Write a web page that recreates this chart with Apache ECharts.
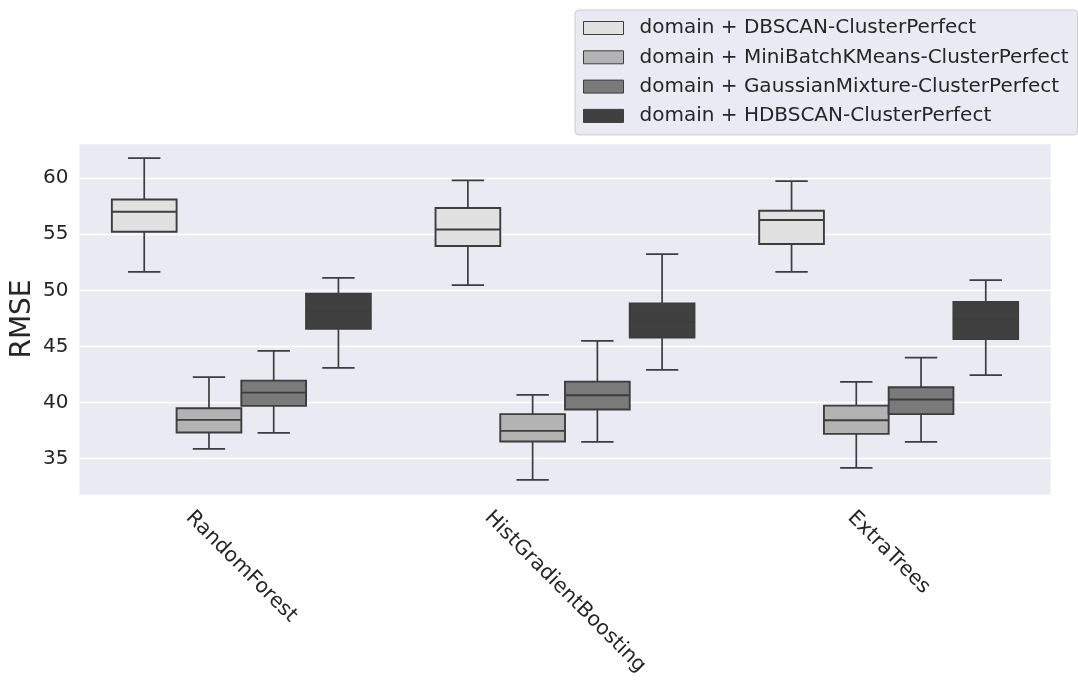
<!DOCTYPE html>
<html>
<head>
<meta charset="utf-8">
<script src="https://cdn.jsdelivr.net/npm/echarts@6/dist/echarts.min.js"></script>
<style>
  html, body { margin: 0; padding: 0; background: #ffffff; }
  #chart { width: 1078px; height: 688px; }
</style>
</head>
<body>
<div id="chart"></div>
<script>
// Regressors on the x axis
const categories = ['RandomForest', 'HistGradientBoosting', 'ExtraTrees'];

// Legend / series names
const seriesNames = [
  'domain + DBSCAN-ClusterPerfect',
  'domain + MiniBatchKMeans-ClusterPerfect',
  'domain + GaussianMixture-ClusterPerfect',
  'domain + HDBSCAN-ClusterPerfect'
];

// Box statistics per regressor: [lower whisker, Q1, median, Q3, upper whisker]
const dbscanStats = [
  [51.65, 55.21, 57.00, 58.09, 61.78],
  [50.46, 53.94, 55.42, 57.33, 59.79],
  [51.65, 54.12, 56.26, 57.09, 59.73]
];
const miniBatchStats = [
  [35.87, 37.33, 38.46, 39.50, 42.26],
  [33.11, 36.53, 37.48, 38.97, 40.69],
  [34.18, 37.21, 38.43, 39.73, 41.84]
];
const gaussianStats = [
  [37.30, 39.71, 40.89, 41.96, 44.61],
  [36.50, 39.38, 40.66, 41.87, 45.50],
  [36.50, 38.97, 40.27, 41.37, 44.01]
];
const hdbscanStats = [
  [43.09, 46.57, 48.20, 49.69, 51.11],
  [42.91, 45.80, 47.19, 48.82, 53.23],
  [42.44, 45.65, 47.46, 48.97, 50.91]
];

// Y axis range and labelled ticks
const yMin = 31.77;
const yMax = 63.12;
const yTicks = [35, 40, 45, 50, 55, 60];

const allStats = [dbscanStats, miniBatchStats, gaussianStats, hdbscanStats];
const fills = ['#e1e1e1', '#b3b3b3', '#7a7a7a', '#404040'];
const lineColor = '#3d3d3d';
const textColor = '#262626';
const fontFamily = '"DejaVu Sans", sans-serif';
const tickFont = 20;
const xTickFont = 20.5;
const labelLineHeight = 21;

// Rotated category labels: each one is pushed along and across its own direction
// so that its bounding box hangs centred under the tick with its top just below the axis.
const measureCtx = document.createElement('canvas').getContext('2d');
measureCtx.font = xTickFont + 'px "DejaVu Sans"';
const xAxisData = categories.map(function (c) {
  const len = measureCtx.measureText(c).width;
  const shift = 0.25 * (len + xTickFont * 0.9);
  return {
    value: c,
    textStyle: {
      align: 'center',
      verticalAlign: 'top',
      lineHeight: labelLineHeight,
      padding: [Math.max(0, shift - labelLineHeight / 2), 0, 0, 2 * shift]
    }
  };
});

const groupCount = seriesNames.length;

function makeRenderItem(seriesIdx) {
  return function (params, api) {
    const ci = api.value(0);
    const band = api.size([1, 0])[0];
    const slot = band * 0.8 / groupCount;
    const cx = api.coord([ci, 0])[0] + (seriesIdx - (groupCount - 1) / 2) * slot;
    const w = slot;
    const cap = w / 2;
    const yLow = api.coord([ci, api.value(1)])[1];
    const yQ1 = api.coord([ci, api.value(2)])[1];
    const yMed = api.coord([ci, api.value(3)])[1];
    const yQ3 = api.coord([ci, api.value(4)])[1];
    const yHigh = api.coord([ci, api.value(5)])[1];
    const lineStyle = { stroke: lineColor, lineWidth: 1.7, fill: null };
    return {
      type: 'group',
      children: [
        { type: 'line', shape: { x1: cx, y1: yLow, x2: cx, y2: yQ1 }, style: lineStyle },
        { type: 'line', shape: { x1: cx, y1: yQ3, x2: cx, y2: yHigh }, style: lineStyle },
        { type: 'line', shape: { x1: cx - cap / 2, y1: yLow, x2: cx + cap / 2, y2: yLow }, style: lineStyle },
        { type: 'line', shape: { x1: cx - cap / 2, y1: yHigh, x2: cx + cap / 2, y2: yHigh }, style: lineStyle },
        {
          type: 'rect',
          shape: { x: cx - w / 2, y: yQ3, width: w, height: yQ1 - yQ3 },
          style: { fill: fills[seriesIdx], stroke: lineColor, lineWidth: 1.9 }
        },
        { type: 'line', shape: { x1: cx - w / 2, y1: yMed, x2: cx + w / 2, y2: yMed }, style: { stroke: lineColor, lineWidth: 1.9 } }
      ]
    };
  };
}

const series = allStats.map(function (stats, si) {
  return {
    name: seriesNames[si],
    type: 'custom',
    renderItem: makeRenderItem(si),
    itemStyle: { color: fills[si] },
    encode: { x: 0, y: [1, 2, 3, 4, 5] },
    data: stats.map(function (s, ci) { return [ci].concat(s); }),
    animation: false
  };
});

const chart = echarts.init(document.getElementById('chart'), null, { renderer: 'canvas' });
chart.setOption({
  animation: false,
  backgroundColor: '#ffffff',
  textStyle: { fontFamily: fontFamily },
  grid: {
    left: 79.5, right: 27.5, top: 143, bottom: 193,
    containLabel: false,
    outerBoundsMode: 'none',
    show: true, backgroundColor: '#eaeaf2', borderWidth: 0
  },
  legend: {
    orient: 'vertical',
    left: 575, top: 10,
    padding: [8, 9, 9, 8],
    backgroundColor: '#eaeaf2',
    borderColor: '#cccccc',
    borderWidth: 1,
    borderRadius: 4,
    itemWidth: 40,
    itemHeight: 13,
    itemGap: 9.3,
    icon: 'rect',
    selectedMode: false,
    textStyle: {
      color: textColor, fontSize: tickFont, fontFamily: fontFamily,
      lineHeight: 20, padding: [0, 0, 0, 11]
    },
    data: seriesNames.map(function (n, i) {
      return { name: n, itemStyle: { color: fills[i], borderColor: lineColor, borderWidth: 1 } };
    })
  },
  xAxis: {
    type: 'category',
    data: xAxisData,
    axisLine: { show: false },
    axisTick: { show: false },
    splitLine: { show: false },
    axisLabel: {
      interval: 0,
      rotate: -45,
      margin: 13,
      hideOverlap: false,
      color: textColor,
      fontSize: xTickFont,
      fontFamily: fontFamily
    }
  },
  yAxis: {
    type: 'value',
    min: yMin,
    max: yMax,
    name: 'RMSE',
    nameLocation: 'middle',
    nameGap: 43,
    nameMoveOverlap: false,
    nameRotate: 90,
    nameTextStyle: { color: textColor, fontSize: 28, fontFamily: fontFamily },
    axisLine: { show: false },
    axisTick: { show: false },
    axisLabel: {
      margin: 11,
      color: textColor,
      fontSize: tickFont,
      fontFamily: fontFamily,
      showMinLabel: false,
      showMaxLabel: false,
      formatter: function (v) {
        return yTicks.indexOf(Math.round(v * 100) / 100) >= 0 ? String(v) : '';
      }
    },
    splitLine: {
      show: true,
      lineStyle: { color: '#ffffff', width: 1.3 }
    }
  },
  series: series
});
</script>
</body>
</html>
